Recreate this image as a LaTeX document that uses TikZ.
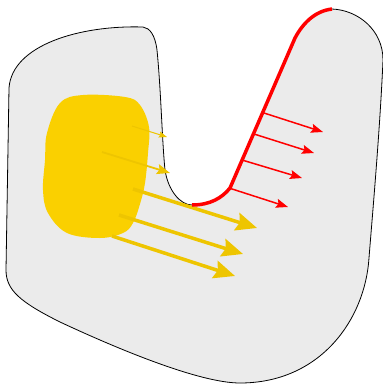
\documentclass[tikz,border=0pt]{standalone}
\usetikzlibrary{arrows.meta}
\definecolor{bodygray}{HTML}{EBEBEB}
\definecolor{blobyellow}{HTML}{FAD000}
\definecolor{arrowyellow}{HTML}{EEC500}
\definecolor{edgered}{HTML}{FF0000}
\begin{document}
\begin{tikzpicture}[x=1pt, y=-1pt,
  yarrow/.style={draw=arrowyellow, line width=3.5pt, -{Stealth[length=21pt, width=18pt, inset=3pt]}},
  rarrow/.style={draw=edgered, line width=1.5pt, -{Stealth[length=12pt, width=9pt, inset=2pt]}}]
\useasboundingbox (0,0) rectangle (383,384);

\filldraw[fill=bodygray, draw=black, line width=0.8pt]
  (9,88) .. controls (12,45) and (80,25) .. (143,27)
  .. controls (150,28) and (155,35) .. (157,50)
  .. controls (161,90) and (162,140) .. (165,170)
  .. controls (168,190) and (180,205) .. (192,205)
  .. controls (210,205) and (222,198) .. (230,188)
  -- (295,38)
  .. controls (303,23) and (315,11) .. (332,9)
  .. controls (358,10) and (383,30) .. (383,60)
  .. controls (380,130) and (372,220) .. (369,258)
  .. controls (365,320) and (320,383) .. (240,383)
  .. controls (200,383) and (120,350) .. (60,322)
  .. controls (20,302) and (6,290) .. (6,270)
  -- cycle;

\fill[blobyellow] plot[smooth cycle, tension=0.6] coordinates {
  (83,95) (125,97) (140,105) (149,127) (148,153) (145,183) (140,204)
  (133,223) (123,233) (100,238) (67,233) (48,213) (43,190) (45,160) (47,133) (60,103)};

\coordinate (Y1s) at (132,126); \coordinate (Y1e) at (167,137);
\coordinate (Y2s) at (102,152); \coordinate (Y2e) at (170,173);
\coordinate (Y3s) at (133,189); \coordinate (Y3e) at (257,228);
\coordinate (Y4s) at (119,215); \coordinate (Y4e) at (243,254);
\coordinate (Y5s) at (112,236); \coordinate (Y5e) at (235,276);

\draw[draw=arrowyellow, line width=1pt, -{Stealth[length=8pt, width=6pt, inset=1pt]}] (Y1s) -- (Y1e);
\draw[draw=arrowyellow, line width=1.8pt, -{Stealth[length=13pt, width=10pt, inset=2pt]}] (Y2s) -- (Y2e);
\draw[yarrow] (Y3s) -- (Y3e);
\draw[yarrow] (Y4s) -- (Y4e);
\draw[yarrow] (Y5s) -- (Y5e);

\draw[edgered, line width=3.5pt]
  (192,205) .. controls (210,205) and (222,198) .. (230,188)
  -- (295,38)
  .. controls (303,23) and (315,11) .. (332,9);

\coordinate (R1s) at (264,113); \coordinate (R1e) at (323,132);
\coordinate (R2s) at (254,134); \coordinate (R2e) at (314,153);
\coordinate (R3s) at (242,160); \coordinate (R3e) at (302,178);
\coordinate (R4s) at (229,188); \coordinate (R4e) at (288,207);

\draw[rarrow] (R1s) -- (R1e);
\draw[rarrow] (R2s) -- (R2e);
\draw[rarrow] (R3s) -- (R3e);
\draw[rarrow] (R4s) -- (R4e);
\end{tikzpicture}
\end{document}
